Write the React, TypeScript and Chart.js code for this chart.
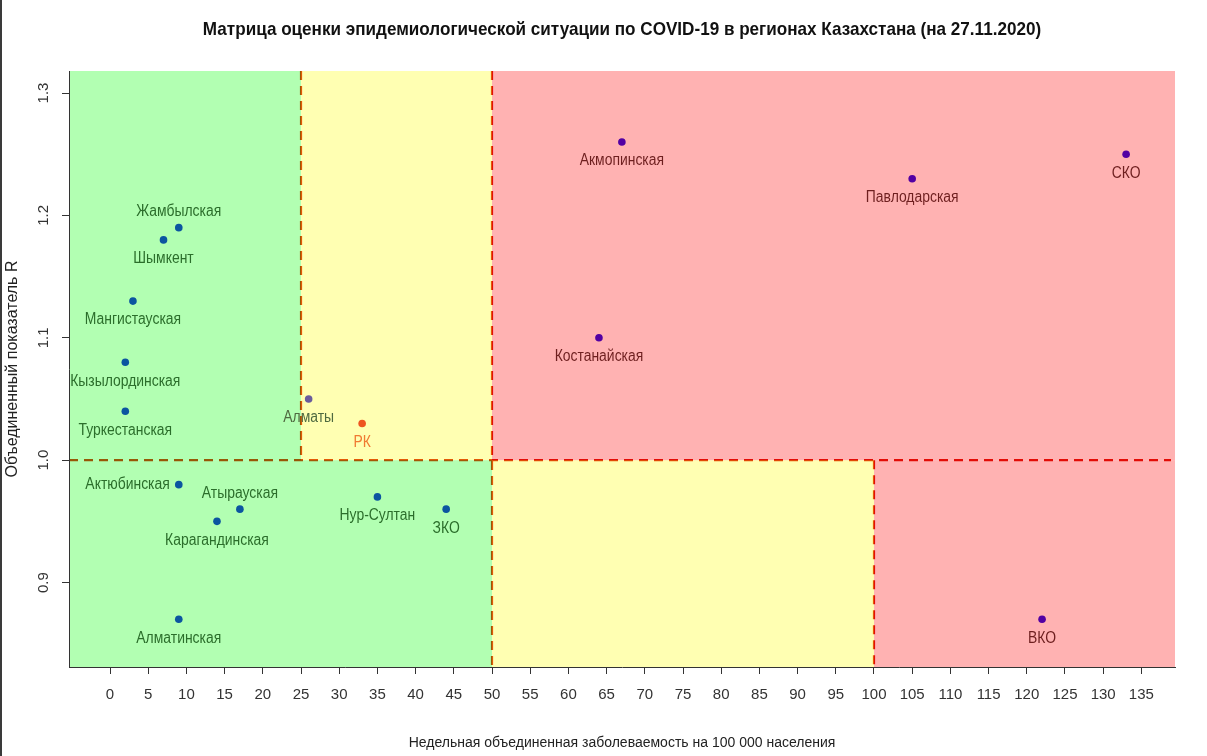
import React, { useEffect, useRef } from "react";
import { Chart, registerables } from "chart.js";

Chart.register(...registerables);

const TITLE =
  "Матрица оценки эпидемиологической ситуации по COVID-19 в регионах Казахстана (на 27.11.2020)";
const X_TITLE = "Недельная объединенная заболеваемость на 100 000 населения";
const Y_TITLE = "Объединенный показатель R";

const X_TICKS = [0, 5, 10, 15, 20, 25, 30, 35, 40, 45, 50, 55, 60, 65, 70, 75, 80, 85, 90, 95, 100, 105, 110, 115, 120, 125, 130, 135];
const Y_TICKS = [0.9, 1.0, 1.1, 1.2, 1.3];

// Regions in the green zone
const GREEN_NAMES = ["Жамбылская", "Шымкент", "Мангистауская", "Кызылординская", "Туркестанская", "Актюбинская", "Атырауская", "Карагандинская", "Нур-Султан", "ЗКО", "Алматинская"];
const GREEN_X = [9, 7, 3, 2, 2, 9, 17, 14, 35, 44, 9];
const GREEN_Y = [1.19, 1.18, 1.13, 1.08, 1.04, 0.98, 0.96, 0.95, 0.97, 0.96, 0.87];
const GREEN_POS = ["above", "below", "below", "below", "below", "left", "above", "below", "below", "below", "below"];

// Almaty city
const ALMATY_NAMES = ["Алматы"];
const ALMATY_X = [26];
const ALMATY_Y = [1.05];
const ALMATY_POS = ["below"];

// Republic of Kazakhstan overall
const RK_NAMES = ["РК"];
const RK_X = [33];
const RK_Y = [1.03];
const RK_POS = ["below"];

// Regions in the red zone
const RED_NAMES = ["Акмопинская", "Павлодарская", "СКО", "Костанайская", "ВКО"];
const RED_X = [67, 105, 133, 64, 122];
const RED_Y = [1.26, 1.23, 1.25, 1.1, 0.87];
const RED_POS = ["below", "below", "below", "below", "below"];

// Zone thresholds
const R_THRESHOLD = 1.0;
const HIGH_R_LIMITS = [25, 50];
const LOW_R_LIMITS = [50, 100];

const X_MIN = -5.37;
const X_MAX = 139.4;
const Y_MIN = 0.831;
const Y_MAX = 1.318;

const FONT = "'Liberation Sans', Arial, sans-serif";

const toPoints = (xs: number[], ys: number[]) => xs.map((x, i) => ({ x, y: ys[i] }));

const drawScaled = (ctx: any, text: string, x: number, y: number, align: string, sx: number) => {
  ctx.save();
  ctx.translate(x, y);
  ctx.scale(sx, 1);
  ctx.textAlign = align;
  ctx.fillText(text, 0, 0);
  ctx.restore();
};

const zonesPlugin = {
  id: "zones",
  beforeDraw(chart: any) {
    const { ctx, chartArea: a, scales } = chart;
    const xs = scales.x;
    const ys = scales.y;
    const px = (v: number) => xs.getPixelForValue(v);
    const yr = ys.getPixelForValue(R_THRESHOLD);
    const h1 = px(HIGH_R_LIMITS[0]);
    const h2 = px(HIGH_R_LIMITS[1]);
    const l1 = px(LOW_R_LIMITS[0]);
    const l2 = px(LOW_R_LIMITS[1]);
    ctx.save();
    ctx.strokeStyle = "rgb(215,20,10)";
    ctx.lineWidth = 2.2;
    ctx.setLineDash([9, 6]);
    const line = (x1: number, y1: number, x2: number, y2: number) => {
      ctx.beginPath();
      ctx.moveTo(x1, y1);
      ctx.lineTo(x2, y2);
      ctx.stroke();
    };
    line(h1, a.top, h1, yr);
    line(h2, a.top, h2, a.bottom);
    line(l2, yr, l2, a.bottom);
    line(a.left, yr, a.right - 4, yr);
    ctx.setLineDash([]);
    ctx.globalAlpha = 0.3;
    ctx.fillStyle = "rgb(0,255,0)";
    ctx.fillRect(a.left, a.top, h1 - a.left, yr - a.top);
    ctx.fillRect(a.left, yr, l1 - a.left, a.bottom - yr);
    ctx.fillStyle = "rgb(255,255,0)";
    ctx.fillRect(h1, a.top, h2 - h1, yr - a.top);
    ctx.fillRect(l1, yr, l2 - l1, a.bottom - yr);
    ctx.fillStyle = "rgb(255,0,0)";
    ctx.fillRect(h2, a.top, a.right - h2, yr - a.top);
    ctx.fillRect(l2, yr, a.right - l2, a.bottom - yr);
    ctx.restore();
  },
};

const labelsPlugin = {
  id: "pointLabels",
  afterDatasetsDraw(chart: any) {
    const { ctx } = chart;
    ctx.save();
    ctx.font = `16px ${FONT}`;
    ctx.textBaseline = "middle";
    const sx = 0.87;
    chart.data.datasets.forEach((ds: any, di: number) => {
      const meta = chart.getDatasetMeta(di);
      meta.data.forEach((el: any, i: number) => {
        const name = ds.names[i];
        const pos = ds.positions[i];
        ctx.fillStyle = ds.labelColor;
        if (pos === "left") {
          drawScaled(ctx, name, el.x - 9, el.y, "right", sx);
        } else if (pos === "above") {
          drawScaled(ctx, name, el.x, el.y - 16, "center", sx);
        } else {
          drawScaled(ctx, name, el.x, el.y + 19, "center", sx);
        }
      });
    });
    ctx.restore();
  },
};

const titlePlugin = {
  id: "mainTitle",
  afterDraw(chart: any) {
    const { ctx, chartArea: a } = chart;
    ctx.save();
    ctx.font = `bold 19px ${FONT}`;
    ctx.fillStyle = "#111";
    ctx.textBaseline = "middle";
    drawScaled(ctx, TITLE, (a.left + a.right) / 2, 30, "center", 0.9);
    ctx.fillStyle = "#3a3a3a";
    ctx.fillRect(0, 0, 2, chart.height);
    ctx.restore();
  },
};

export default function App() {
  const ref = useRef<HTMLCanvasElement | null>(null);
  useEffect(() => {
    if (!ref.current) return;
    const chart = new Chart(ref.current, {
      type: "scatter",
      data: {
        datasets: [
          {
            data: toPoints(GREEN_X, GREEN_Y),
            names: GREEN_NAMES,
            positions: GREEN_POS,
            labelColor: "#2b6e2b",
            pointBackgroundColor: "#0b55a0",
          },
          {
            data: toPoints(ALMATY_X, ALMATY_Y),
            names: ALMATY_NAMES,
            positions: ALMATY_POS,
            labelColor: "#4f6a40",
            pointBackgroundColor: "#6a5c9c",
          },
          {
            data: toPoints(RK_X, RK_Y),
            names: RK_NAMES,
            positions: RK_POS,
            labelColor: "#f07a32",
            pointBackgroundColor: "#ee5520",
          },
          {
            data: toPoints(RED_X, RED_Y),
            names: RED_NAMES,
            positions: RED_POS,
            labelColor: "#6e1f1f",
            pointBackgroundColor: "#5200a3",
          },
        ] as any,
      },
      options: {
        animation: false,
        responsive: false,
        devicePixelRatio: 1,
        layout: { padding: { left: 0, right: 32, top: 71, bottom: 0 } },
        elements: { point: { radius: 3.8, borderWidth: 0, hoverRadius: 3.8 } },
        plugins: { legend: { display: false }, tooltip: { enabled: false }, title: { display: false } },
        events: [],
        scales: {
          x: {
            type: "linear",
            min: X_MIN,
            max: X_MAX,
            afterBuildTicks: (s: any) => {
              s.ticks = X_TICKS.map((v) => ({ value: v }));
            },
            afterFit: (s: any) => {
              s.height = 89;
            },
            grid: { display: true, drawOnChartArea: false, drawTicks: true, tickLength: 7, color: "#333" },
            border: { display: true, color: "#333", width: 1 },
            ticks: {
              autoSkip: false,
              maxRotation: 0,
              minRotation: 0,
              padding: 12,
              color: "#333",
              font: { family: FONT, size: 15 },
              callback: (v: any) => String(v),
            },
            title: {
              display: true,
              text: X_TITLE,
              color: "#222",
              font: { family: FONT, size: 14 },
              padding: { top: 0, bottom: 4 },
            },
          },
          y: {
            type: "linear",
            min: Y_MIN,
            max: Y_MAX,
            afterBuildTicks: (s: any) => {
              s.ticks = Y_TICKS.map((v) => ({ value: v }));
            },
            afterFit: (s: any) => {
              s.width = 69;
            },
            grid: { display: true, drawOnChartArea: false, drawTicks: true, tickLength: 7, color: "#333" },
            border: { display: true, color: "#333", width: 1 },
            ticks: {
              minRotation: 90,
              maxRotation: 90,
              crossAlign: "center",
              padding: 8,
              color: "#333",
              font: { family: FONT, size: 15 },
              callback: (v: any) => Number(v).toFixed(1),
            },
            title: {
              display: true,
              text: Y_TITLE,
              color: "#222",
              font: { family: FONT, size: 16 },
              padding: { top: 3, bottom: 0 },
            },
          },
        },
      },
      plugins: [zonesPlugin, labelsPlugin, titlePlugin],
    } as any);
    return () => chart.destroy();
  }, []);
  return (
    <div style={{ position: "absolute", left: 0, top: 0, width: 1207, height: 756, background: "#fff" }}>
      <canvas ref={ref} width={1207} height={756} />
    </div>
  );
}
